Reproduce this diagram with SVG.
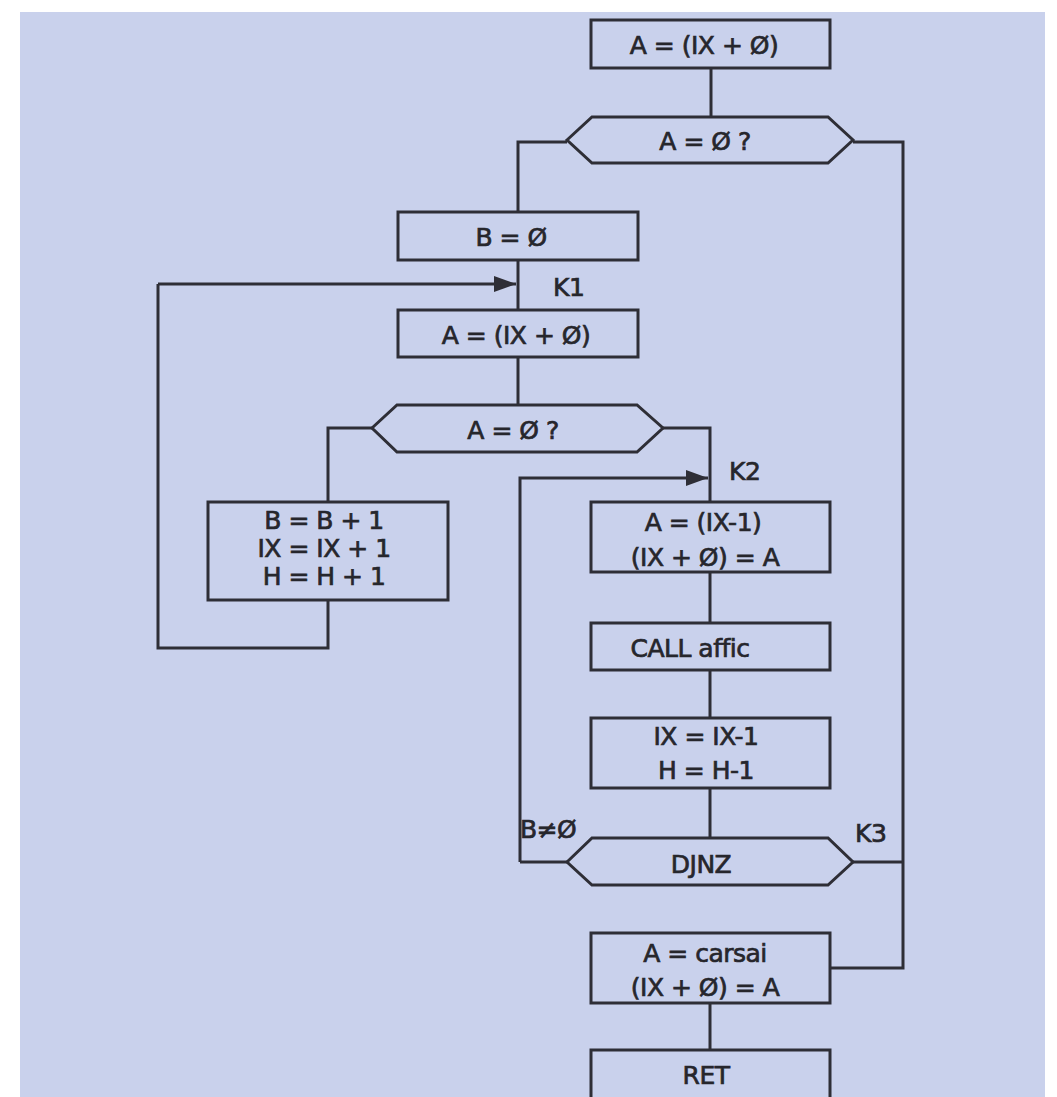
<svg xmlns="http://www.w3.org/2000/svg" width="1057" height="1097" viewBox="0 0 1057 1097">
<defs>
<style>
.bg{fill:#c9d1ec}
.n{fill:none;stroke:#2e2e36;stroke-width:3}
.c{fill:none;stroke:#2e2e36;stroke-width:3}
text{font-family:"DejaVu Sans","Liberation Sans",sans-serif;font-size:25px;fill:#26262c;stroke:#26262c;stroke-width:0.7;text-anchor:middle;letter-spacing:-0.5px}
.lbl{text-anchor:start}
</style>
<marker id="arr" viewBox="0 0 22 16" refX="22" refY="8" markerWidth="22" markerHeight="16" markerUnits="userSpaceOnUse" orient="auto">
<path d="M0,0 L22,8 L0,16 Z" fill="#2e2e36"/>
</marker>
</defs>
<rect x="0" y="0" width="1057" height="1097" fill="#ffffff"/>
<rect class="bg" x="20" y="12" width="1025" height="1090"/>
<g id="connectors">
<path class="c" d="M711,68 V117"/>
<path class="c" d="M567,142 H518 V212"/>
<path class="c" d="M853,142 H903 V968 H830"/>
<path class="c" d="M518,260 V310"/>
<path class="c" d="M158,284 H516" marker-end="url(#arr)"/>
<path class="c" d="M518,357 V405"/>
<path class="c" d="M372,428 H328 V502"/>
<path class="c" d="M328,600 V648 H158 V284"/>
<path class="c" d="M663,428 H710 V502"/>
<path class="c" d="M520,862 H567"/>
<path class="c" d="M520,862 V478 H708" marker-end="url(#arr)"/>
<path class="c" d="M710,572 V623"/>
<path class="c" d="M710,670 V718"/>
<path class="c" d="M710,788 V838"/>
<path class="c" d="M853,862 H903"/>
<path class="c" d="M710,1003 V1050"/>
<text class="lbl" x="553" y="296">K1</text>
<text class="lbl" x="729" y="480">K2</text>
<text class="lbl" x="520" y="838">B≠Ø</text>
<text class="lbl" x="855" y="842">K3</text>
</g>
<g id="n1"><rect class="n" x="591" y="20" width="239" height="48"/><text x="704" y="54">A = (IX + Ø)</text></g>
<g id="d1"><path class="n" d="M567,140 L592,117 H828 L853,140 L828,163 H592 Z"/><text x="705" y="150">A = Ø ?</text></g>
<g id="n2"><rect class="n" x="398" y="212" width="240" height="48"/><text x="511" y="246">B = Ø</text></g>
<g id="n3"><rect class="n" x="398" y="310" width="240" height="47"/><text x="516" y="344">A = (IX + Ø)</text></g>
<g id="d2"><path class="n" d="M372,428 L397,405 H637 L663,428 L637,452 H397 Z"/><text x="513" y="439">A = Ø ?</text></g>
<g id="n4"><rect class="n" x="208" y="502" width="240" height="98"/><text x="324" y="529">B = B + 1</text><text x="324" y="557">IX = IX + 1</text><text x="324" y="585">H = H + 1</text></g>
<g id="n5"><rect class="n" x="591" y="502" width="239" height="70"/><text x="703" y="531">A = (IX-1)</text><text x="705" y="566">(IX + Ø) = A</text></g>
<g id="n6"><rect class="n" x="591" y="623" width="239" height="47"/><text x="690" y="657">CALL affic</text></g>
<g id="n7"><rect class="n" x="591" y="718" width="239" height="70"/><text x="706" y="745">IX = IX-1</text><text x="706" y="779">H = H-1</text></g>
<g id="d3"><path class="n" d="M567,862 L592,838 H828 L853,862 L828,885 H592 Z"/><text x="701" y="873">DJNZ</text></g>
<g id="n8"><rect class="n" x="591" y="933" width="239" height="70"/><text x="705" y="962">A = carsai</text><text x="705" y="996">(IX + Ø) = A</text></g>
<g id="n9"><rect class="n" x="591" y="1050" width="239" height="60"/><text x="706" y="1084">RET</text></g>
</svg>
